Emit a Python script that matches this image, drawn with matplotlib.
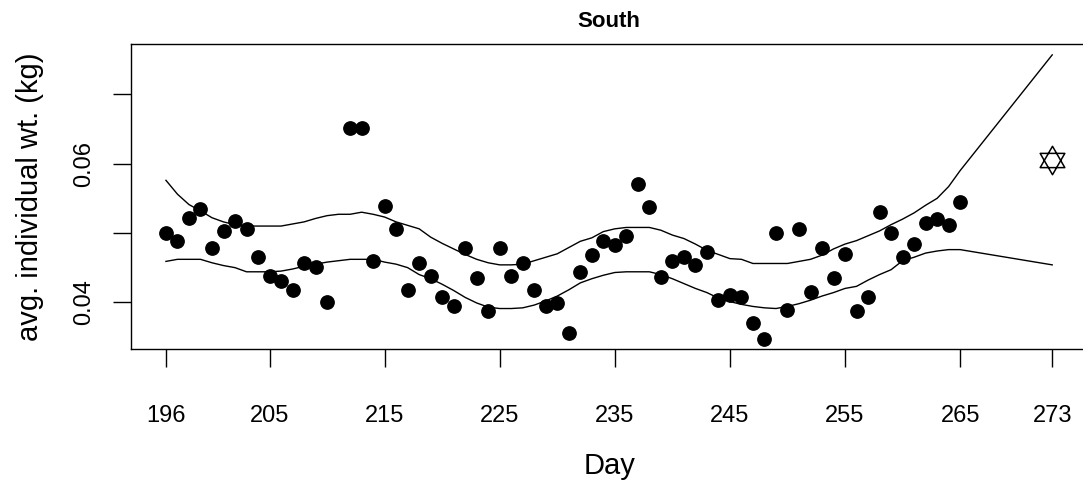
#!/usr/bin/env python3
"""South: average individual weight by day, with upper/lower band and a reference star."""

import matplotlib
matplotlib.use("Agg")
import matplotlib.pyplot as plt
from matplotlib.path import Path

plt.rcParams["font.family"] = ["Liberation Sans", "DejaVu Sans"]

# observed points (day, avg individual weight in kg)
days = [196, 197, 198, 199, 200, 201, 202, 203, 204, 205, 206, 207, 208, 209, 210,
        212, 213, 214, 215, 216, 217, 218, 219, 220, 221, 222, 223, 224, 225, 226,
        227, 228, 229, 230, 231, 232, 233, 234, 235, 236, 237, 238, 239, 240, 241,
        242, 243, 244, 245, 246, 247, 248, 249, 250, 251, 252, 253, 254, 255, 256,
        257, 258, 259, 260, 261, 262, 263, 264, 265]
weights = [0.0500, 0.0489, 0.0522, 0.0534, 0.0478, 0.0503, 0.0517, 0.0506, 0.0466, 0.0438,
           0.0430, 0.0418, 0.0457, 0.0451, 0.0401,
           0.0652, 0.0652, 0.0460, 0.0539, 0.0506, 0.0418, 0.0457, 0.0438, 0.0407, 0.0395,
           0.0478, 0.0435, 0.0387, 0.0478, 0.0438,
           0.0457, 0.0418, 0.0395, 0.0399, 0.0356, 0.0443, 0.0468, 0.0489, 0.0483, 0.0495,
           0.0571, 0.0537, 0.0436, 0.0460, 0.0466,
           0.0454, 0.0472, 0.0403, 0.0410, 0.0407, 0.0370, 0.0347, 0.0500, 0.0389, 0.0506,
           0.0415, 0.0478, 0.0435, 0.0469, 0.0387,
           0.0407, 0.0531, 0.0500, 0.0466, 0.0484, 0.0514, 0.0520, 0.0511, 0.0545]

# band curves
band_days = list(range(196, 266)) + [273]
upper = [0.0576, 0.0556, 0.0541, 0.0532, 0.0522, 0.0516, 0.0512, 0.0510, 0.0510, 0.0510,
         0.0510, 0.0513, 0.0516, 0.0521, 0.0525, 0.0527, 0.0527, 0.0530, 0.0527, 0.0523,
         0.0516, 0.0511, 0.0506, 0.0494, 0.0485, 0.0477, 0.0469, 0.0462, 0.0457, 0.0454,
         0.0454, 0.0455, 0.0460, 0.0465, 0.0470, 0.0479, 0.0488, 0.0493, 0.0502, 0.0506,
         0.0508, 0.0508, 0.0508, 0.0504, 0.0497, 0.0492, 0.0484, 0.0475, 0.0469, 0.0463,
         0.0462, 0.0456, 0.0456, 0.0456, 0.0456, 0.0459, 0.0462, 0.0468, 0.0477, 0.0484,
         0.0489, 0.0496, 0.0503, 0.0512, 0.0520, 0.0529, 0.0540, 0.0550, 0.0567, 0.0590,
         0.0757]
lower = [0.0459, 0.0462, 0.0462, 0.0462, 0.0457, 0.0453, 0.0450, 0.0444, 0.0444, 0.0444,
         0.0445, 0.0448, 0.0452, 0.0455, 0.0458, 0.0460, 0.0462, 0.0462, 0.0462, 0.0458,
         0.0455, 0.0450, 0.0440, 0.0434, 0.0426, 0.0417, 0.0407, 0.0399, 0.0393, 0.0391,
         0.0391, 0.0392, 0.0396, 0.0402, 0.0409, 0.0418, 0.0428, 0.0434, 0.0439, 0.0443,
         0.0444, 0.0444, 0.0444, 0.0440, 0.0434, 0.0427, 0.0420, 0.0414, 0.0406, 0.0401,
         0.0397, 0.0394, 0.0392, 0.0391, 0.0394, 0.0398, 0.0403, 0.0409, 0.0414, 0.0420,
         0.0423, 0.0432, 0.0440, 0.0447, 0.0460, 0.0465, 0.0471, 0.0474, 0.0476, 0.0476,
         0.0454]

star_day = [273]
star_weight = [0.0605]

xticks = [196, 205, 215, 225, 235, 245, 255, 265, 273]
yticks = [0.04, 0.05, 0.06, 0.07]
ytick_labels = ["0.04", "", "0.06", ""]

# star of David marker (two overlaid triangles)
hexagram = Path(
    [(0, 1), (-0.866, -0.5), (0.866, -0.5), (0, 1),
     (0, -1), (-0.866, 0.5), (0.866, 0.5), (0, -1)],
    [Path.MOVETO, Path.LINETO, Path.LINETO, Path.CLOSEPOLY,
     Path.MOVETO, Path.LINETO, Path.LINETO, Path.CLOSEPOLY])

fig = plt.figure(figsize=(10.83, 4.86), dpi=100)
ax = fig.add_axes([0.1205, 0.2813, 0.8838, 0.6282])

ax.plot(band_days, upper, color="black", lw=1.0)
ax.plot(band_days, lower, color="black", lw=1.0)
ax.plot(days, weights, "o", color="black", ms=9.6, mec="black")
ax.plot(star_day, star_weight, marker=hexagram, ls="none", ms=20.5,
        mfc="none", mec="black", mew=1.1)

ax.set_xlim(192.92, 276.08)
ax.set_ylim(0.033218, 0.077273)
ax.set_xticks(xticks)
ax.set_yticks(yticks)
ax.set_yticklabels(ytick_labels, rotation=90, va="center")

for s in ax.spines.values():
    s.set_linewidth(1.0)
ax.tick_params(direction="out", length=13.3, width=1.0, labelsize=17)
ax.tick_params(axis="x", pad=27)
ax.tick_params(axis="y", pad=12)

ax.set_title("South", fontsize=16, fontweight="bold", pad=12)
ax.set_xlabel("Day", fontsize=21, labelpad=18)
ax.set_ylabel("avg. individual wt. (kg)", fontsize=21, labelpad=21)

fig.savefig("out.png", dpi=100)
